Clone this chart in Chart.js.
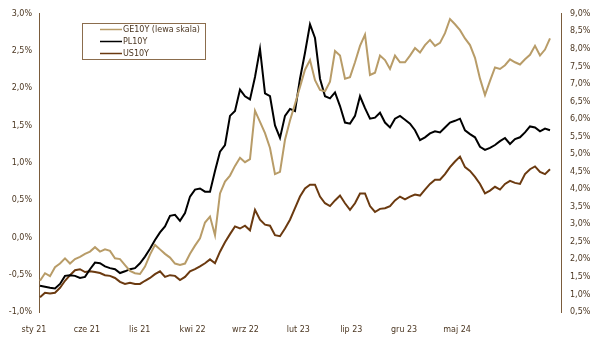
<!DOCTYPE html>
<html>
<head>
<meta charset="utf-8">
<script src="https://cdn.jsdelivr.net/npm/chart.js@4/dist/chart.umd.min.js"></script>
<style>
  html, body { margin: 0; padding: 0; background: #fff; }
  #wrap { width: 614px; height: 340px; position: relative; }
</style>
</head>
<body>
<div id="wrap"><canvas id="myChart" width="614" height="340"></canvas></div>
<script>
// rentownosci 10-letnich obligacji, punkty co ok. 1,5 tygodnia (sty 2021 - maj 2024)
const xTickLabels = ['sty 21', 'cze 21', 'lis 21', 'kwi 22', 'wrz 22', 'lut 23', 'lip 23', 'gru 23', 'maj 24'];

const ge10y = [
    -0.58, -0.48, -0.52, -0.40, -0.35, -0.28, -0.35, -0.29, -0.26, -0.22,
    -0.19, -0.13, -0.19, -0.16, -0.18, -0.28, -0.29, -0.37, -0.45, -0.48,
    -0.49, -0.39, -0.23, -0.10, -0.16, -0.22, -0.27, -0.35, -0.37, -0.35,
    -0.22, -0.11, -0.01, 0.20, 0.28, 0.03, 0.59, 0.75, 0.83, 0.96,
    1.07, 1.01, 1.05, 1.70, 1.55, 1.40, 1.20, 0.85, 0.88, 1.31,
    1.57, 1.79, 2.02, 2.25, 2.38, 2.11, 1.98, 1.96, 2.09, 2.50,
    2.44, 2.13, 2.15, 2.35, 2.57, 2.72, 2.18, 2.21, 2.44, 2.38,
    2.26, 2.44, 2.35, 2.35, 2.44, 2.54, 2.48, 2.58, 2.65, 2.57,
    2.61, 2.74, 2.93, 2.86, 2.78, 2.67, 2.58, 2.41, 2.13, 1.91,
    2.10, 2.28, 2.26, 2.31, 2.39, 2.35, 2.32, 2.39, 2.45, 2.57,
    2.44, 2.52, 2.67
];

const pl10y = [
    1.25, 1.22, 1.19, 1.17, 1.30, 1.53, 1.55, 1.53, 1.47, 1.50,
    1.72, 1.91, 1.89, 1.80, 1.75, 1.72, 1.61, 1.66, 1.72, 1.75,
    1.89, 2.08, 2.30, 2.55, 2.77, 2.94, 3.24, 3.27, 3.10, 3.32,
    3.79, 3.99, 4.02, 3.93, 3.93, 4.52, 5.07, 5.26, 6.09, 6.23,
    6.84, 6.65, 6.56, 7.20, 8.00, 6.73, 6.65, 5.82, 5.46, 6.09,
    6.29, 6.23, 7.15, 7.89, 8.70, 8.31, 7.15, 6.65, 6.59, 6.76,
    6.37, 5.90, 5.87, 6.09, 6.65, 6.31, 6.01, 6.04, 6.18, 5.90,
    5.76, 6.01, 6.09, 5.98, 5.87, 5.68, 5.40, 5.48, 5.59, 5.65,
    5.62, 5.76, 5.90, 5.95, 6.01, 5.68, 5.57, 5.48, 5.21, 5.12,
    5.18, 5.26, 5.37, 5.46, 5.29, 5.43, 5.48, 5.62, 5.79, 5.76,
    5.65, 5.73, 5.68
];

const us10y = [
    0.92, 1.05, 1.03, 1.05, 1.19, 1.39, 1.55, 1.69, 1.72, 1.64,
    1.66, 1.64, 1.61, 1.55, 1.53, 1.47, 1.36, 1.30, 1.33, 1.30,
    1.30, 1.39, 1.47, 1.58, 1.66, 1.50, 1.55, 1.53, 1.41, 1.50,
    1.66, 1.72, 1.80, 1.89, 2.00, 1.89, 2.22, 2.49, 2.72, 2.94,
    2.88, 2.96, 2.83, 3.41, 3.13, 2.99, 2.96, 2.69, 2.66, 2.88,
    3.13, 3.46, 3.79, 4.02, 4.13, 4.13, 3.79, 3.60, 3.52, 3.68,
    3.82, 3.60, 3.41, 3.60, 3.88, 3.88, 3.52, 3.35, 3.44, 3.46,
    3.52, 3.68, 3.79, 3.71, 3.79, 3.85, 3.82, 3.99, 4.15, 4.27,
    4.27, 4.43, 4.63, 4.79, 4.93, 4.63, 4.52, 4.35, 4.15, 3.88,
    3.96, 4.07, 3.99, 4.15, 4.24, 4.18, 4.15, 4.43, 4.57, 4.65,
    4.49, 4.43, 4.57
];

const seriesNames = ['GE10Y (lewa skala)', 'PL10Y', 'US10Y'];

const textColor = '#4b3621';
const axisColor = '#7a5c3c';
const fontFamily = '"DejaVu Sans", Verdana, sans-serif';

function toPoints(arr) {
    return arr.map((v, i) => ({ x: i, y: v }));
}

function pct(v) {
    return v.toFixed(1).replace('.', ',') + '%';
}

// legenda w ramce w lewym gornym rogu
const boxLegend = {
    id: 'boxLegend',
    afterDraw(chart) {
        const ctx = chart.ctx;
        const x0 = 82.5, y0 = 23.5, w = 123, h = 36;
        ctx.save();
        ctx.fillStyle = '#fff';
        ctx.fillRect(x0, y0, w, h);
        ctx.strokeStyle = '#8b6d4d';
        ctx.lineWidth = 1;
        ctx.strokeRect(x0, y0, w, h);
        ctx.font = '8px ' + fontFamily;
        ctx.textBaseline = 'middle';
        chart.data.datasets.forEach((ds, i) => {
            const y = 29.5 + i * 12;
            ctx.strokeStyle = ds.borderColor;
            ctx.lineWidth = 1.5;
            ctx.beginPath();
            ctx.moveTo(100, y);
            ctx.lineTo(122, y);
            ctx.stroke();
            ctx.fillStyle = textColor;
            ctx.fillText(ds.label, 123, y + 0.5);
        });
        ctx.restore();
    }
};

const ctx = document.getElementById('myChart').getContext('2d');
const myChart = new Chart(ctx, {
    type: 'line',
    data: {
        datasets: [
            { label: seriesNames[0], data: toPoints(ge10y), borderColor: '#b89c68', yAxisID: 'y' },
            { label: seriesNames[1], data: toPoints(pl10y), borderColor: '#000000', yAxisID: 'y1' },
            { label: seriesNames[2], data: toPoints(us10y), borderColor: '#6b3a10', yAxisID: 'y1' }
        ]
    },
    options: {
        responsive: false,
        animation: false,
        layout: { padding: { top: 5, left: 0, right: 0, bottom: 0 } },
        elements: {
            point: { radius: 0 },
            line: { borderWidth: 2, tension: 0 }
        },
        plugins: {
            legend: { display: false },
            tooltip: { enabled: false }
        },
        scales: {
            x: {
                type: 'linear',
                min: -0.2,
                max: 104.2,
                afterBuildTicks: (scale) => {
                    scale.ticks = xTickLabels.map((t, k) => ({ value: k * 10.575 }));
                },
                afterFit: (scale) => { scale.height = 28; },
                grid: { display: false },
                border: { display: false },
                ticks: {
                    autoSkip: false,
                    maxRotation: 0,
                    padding: 5,
                    labelOffset: -6,
                    color: textColor,
                    font: { family: fontFamily, size: 8 },
                    callback: (v, idx) => xTickLabels[idx]
                }
            },
            y: {
                position: 'left',
                min: -1,
                max: 3,
                afterFit: (scale) => { scale.width = 39; },
                grid: { drawOnChartArea: false, drawTicks: false },
                border: { display: true, color: axisColor, width: 1 },
                ticks: {
                    stepSize: 0.5,
                    autoSkip: false,
                    padding: 7,
                    color: textColor,
                    font: { family: fontFamily, size: 8 },
                    callback: (v) => pct(v)
                }
            },
            y1: {
                position: 'right',
                min: 0.5,
                max: 9,
                afterFit: (scale) => { scale.width = 53; },
                grid: { drawOnChartArea: false, drawTicks: false },
                border: { display: true, color: axisColor, width: 1 },
                ticks: {
                    stepSize: 0.5,
                    autoSkip: false,
                    padding: 9,
                    color: textColor,
                    font: { family: fontFamily, size: 8 },
                    callback: (v) => pct(v)
                }
            }
        }
    },
    plugins: [boxLegend]
});
</script>
</body>
</html>
